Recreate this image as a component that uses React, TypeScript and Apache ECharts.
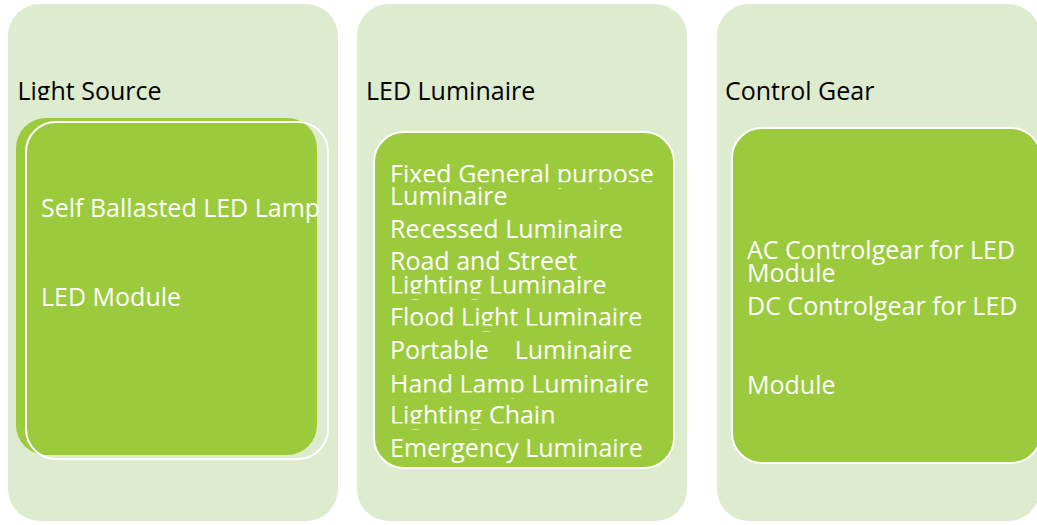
import React, { useEffect, useRef } from 'react';
import * as echarts from 'echarts';

// ---- content ----
const groupTitles = ['Light Source', 'LED Luminaire', 'Control Gear'];
const lightSourceItems = ['Self Ballasted LED Lamp', 'LED Module'];
const luminaireItems = [
  'Fixed General purpose',
  'Luminaire',
  'Recessed Luminaire',
  'Road and Street',
  'Lighting Luminaire',
  'Flood Light Luminaire',
  'Portable\u00a0\u00a0\u00a0 Luminaire',
  'Hand Lamp Luminaire',
  'Lighting Chain',
  'Emergency Luminaire',
];
const controlGearItems = ['AC Controlgear for LED', 'Module', 'DC Controlgear for LED', 'Module'];

// ---- layout ----
const BG = '#DDEBCF';
const GREEN = '#9BCB3C';
const FONT = '"Open Sans", sans-serif';
const FS = 25;
const MID = 9; // baseline -> middle offset

const panels = [
  { x: 8, w: 330, titleX: 17.5 },
  { x: 357, w: 330, titleX: 366 },
  { x: 717, w: 323, titleX: 725 },
];
const itemLayouts = [
  { items: lightSourceItems, x: 41, base: [216, 305], clip: [false, false] },
  {
    items: luminaireItems,
    x: 390,
    base: [181.7, 204, 237, 269, 293, 325, 358, 392, 423, 456],
    clip: [true, false, false, false, true, true, false, true, true, false],
  },
  { items: controlGearItems, x: 747, base: [258, 281, 314, 393], clip: [false, false, false, false] },
];

function text(t: string, x: number, baseline: number, fill: string) {
  return {
    type: 'text',
    x: 0,
    y: 0,
    style: {
      text: t,
      x,
      y: baseline - MID,
      fill,
      fontSize: FS,
      fontFamily: FONT,
      textAlign: 'left',
      textVerticalAlign: 'middle',
    },
  };
}

function rect(x: number, y: number, w: number, h: number, r: number, style: any) {
  return { type: 'rect', shape: { x, y, width: w, height: h, r }, style };
}

export default function App() {
  const ref = useRef<HTMLDivElement>(null);
  useEffect(() => {
    document.body.style.margin = '0';
    const chart = echarts.init(ref.current!, undefined, { renderer: 'svg' });
    const els: any[] = [];
    panels.forEach((p, i) => {
      els.push(rect(p.x, 4, p.w, 517, 32, { fill: BG }));
      els.push(text(groupTitles[i], p.titleX, 99, '#000000'));
      els.push(rect(p.x + 5, 100, p.w - 10, 9, 0, { fill: BG }));
    });
    // inner boxes
    els.push(rect(16, 118, 301, 337, 30, { fill: GREEN }));
    els.push(rect(26, 122, 302, 337, 30, { fill: 'none', stroke: '#ffffff', lineWidth: 2 }));
    els.push(rect(374, 132, 300, 336, 30, { fill: GREEN, stroke: '#ffffff', lineWidth: 2 }));
    els.push(rect(732, 128, 309, 335, 30, { fill: GREEN, stroke: '#ffffff', lineWidth: 2 }));

    itemLayouts.forEach((L) => {
      L.items.forEach((t, j) => {
        els.push(text(t, L.x, L.base[j], '#ffffff'));
        if (L.clip[j]) {
          els.push(rect(L.x - 2, L.base[j] + 0.5, 278, 6, 0, { fill: GREEN }));
        }
      });
    });

    chart.setOption({
      animation: false,
      backgroundColor: '#ffffff',
      graphic: { elements: els },
    });
    return () => chart.dispose();
  }, []);
  return <div ref={ref} style={{ width: 1037, height: 525 }} />;
}
